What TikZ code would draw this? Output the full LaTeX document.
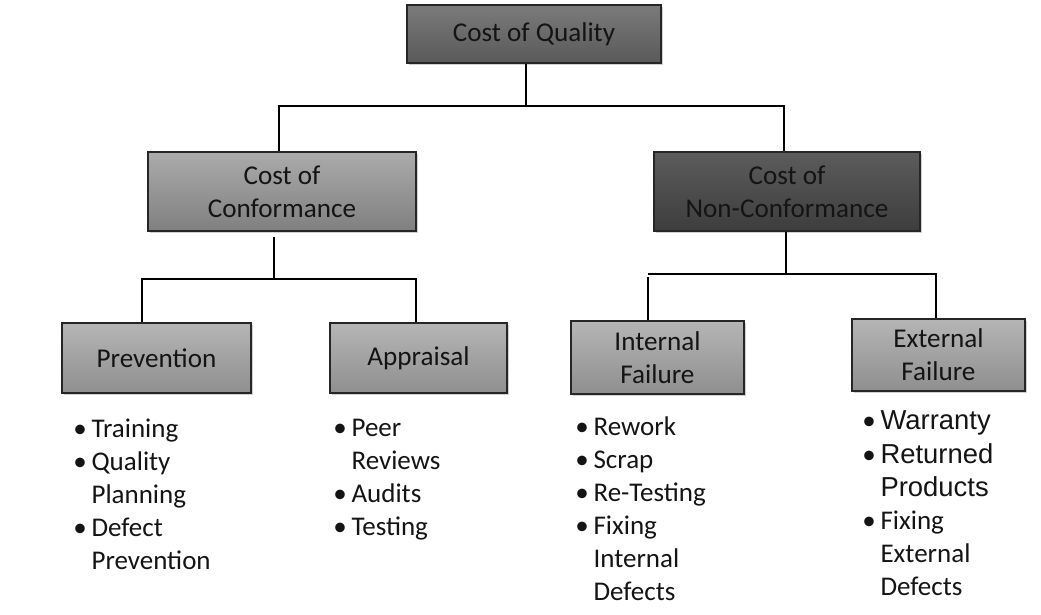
\documentclass[tikz,border=0pt]{standalone}
\usepackage{fontspec}
\setmainfont{Carlito}
\newfontfamily\arialfont{Liberation Sans}
\usepackage{tikz}
\usetikzlibrary{shadows}
\usepackage{xcolor}

\definecolor{txtgray}{HTML}{141414}
\newcommand{\bitem}{\makebox[13pt][l]{\textbullet}}
\newcommand{\bcont}{\makebox[13pt][l]{}}

\tikzset{
  box/.style={draw=black!85, line width=1pt, inner sep=0pt, align=center,
    text=txtgray, font=\fontsize{19.3}{23.5}\selectfont,
    drop shadow={shadow xshift=1.5pt, shadow yshift=-1.5pt, fill=black!30, opacity=0.6}},
  topbox/.style={box, top color=black!52, bottom color=black!65},
  midbox/.style={box, top color=black!33, bottom color=black!50},
  darkbox/.style={box, top color=black!64, bottom color=black!76},
  leafbox/.style={box, top color=black!29, bottom color=black!44},
  blist/.style={anchor=base west, inner sep=0pt, text=txtgray,
    font=\fontsize{19.2}{23.4}\selectfont},
  link/.style={line width=1pt, black}
}

\begin{document}
\begin{tikzpicture}[x=0.025cm, y=-0.025cm]
      \useasboundingbox (0,0) rectangle (1041,615);
      \node[topbox, minimum width=6.35cm, minimum height=1.45cm] (quality) at (534,34) {Cost of Quality};
      \node[midbox, minimum width=6.7cm, minimum height=1.975cm] (conf) at (282,191.5) {Cost of\\Conformance};
      \node[darkbox, minimum width=6.65cm, minimum height=1.975cm] (nonconf) at (787,191.5) {Cost of\\Non-Conformance};
      \node[leafbox, minimum width=4.725cm, minimum height=1.75cm] (prev) at (156.5,358) {Prevention};
      \node[leafbox, minimum width=4.425cm, minimum height=1.75cm] (appr) at (418.5,358) {Appraisal};
      \node[leafbox, minimum width=4.325cm, minimum height=1.825cm] (intf) at (657.5,357.5) {Internal\\Failure};
      \node[leafbox, minimum width=4.325cm, minimum height=1.8cm] (extf) at (938.5,355) {External\\Failure};

      \coordinate (q1) at (526,106);
      \coordinate (c1) at (274,279);
      \coordinate (c2) at (142,279);
      \coordinate (c3) at (416,279);
      \coordinate (n1) at (786,274);
      \coordinate (n2) at (648,274);
      \coordinate (n3) at (936,274);
      \draw[link] (quality.south -| q1) -- (q1);
      \draw[link] (conf.north -| 279,0) |- (q1) -| (nonconf.north -| 784,0);
      \draw[link] ([yshift=-4pt]conf.south -| c1) -- (c1);
      \draw[link] (prev.north -| c2) -- (c2) -- (c3) -- (appr.north -| c3);
      \draw[link] (nonconf.south -| n1) -- (n1);
      \draw[link] (intf.north -| n2) -- ([yshift=-2pt]n2);
      \draw[link] (n2) -- (n3) -- (extf.north -| n3);

      \node[blist] (prevlist) at (73,438) {\begin{tabular}[t]{@{}l@{}}
        \bitem Training\\ \bitem Quality\\ \bcont Planning\\ \bitem Defect\\ \bcont Prevention
      \end{tabular}};
      \node[blist] (apprlist) at (333,437) {\begin{tabular}[t]{@{}l@{}}
        \bitem Peer\\ \bcont Reviews\\ \bitem Audits\\ \bitem Testing
      \end{tabular}};
      \node[blist] (intflist) at (575,436) {\begin{tabular}[t]{@{}l@{}}
        \bitem Rework\\ \bitem Scrap\\ \bitem Re-Testing\\ \bitem Fixing\\ \bcont Internal\\ \bcont Defects
      \end{tabular}};
      \node[blist, font=\fontsize{19.2}{23.5}\selectfont] (extflist) at (862,430) {\begin{tabular}[t]{@{}l@{}}
        \bitem{\arialfont\fontsize{19.5}{23.5}\selectfont Warranty}\\
        \bitem{\arialfont\fontsize{19.5}{23.5}\selectfont Returned}\\
        \bcont{\arialfont\fontsize{19.5}{23.5}\selectfont Products}\\
        \bitem Fixing\\ \bcont External\\ \bcont Defects
      \end{tabular}};
\end{tikzpicture}
\end{document}
